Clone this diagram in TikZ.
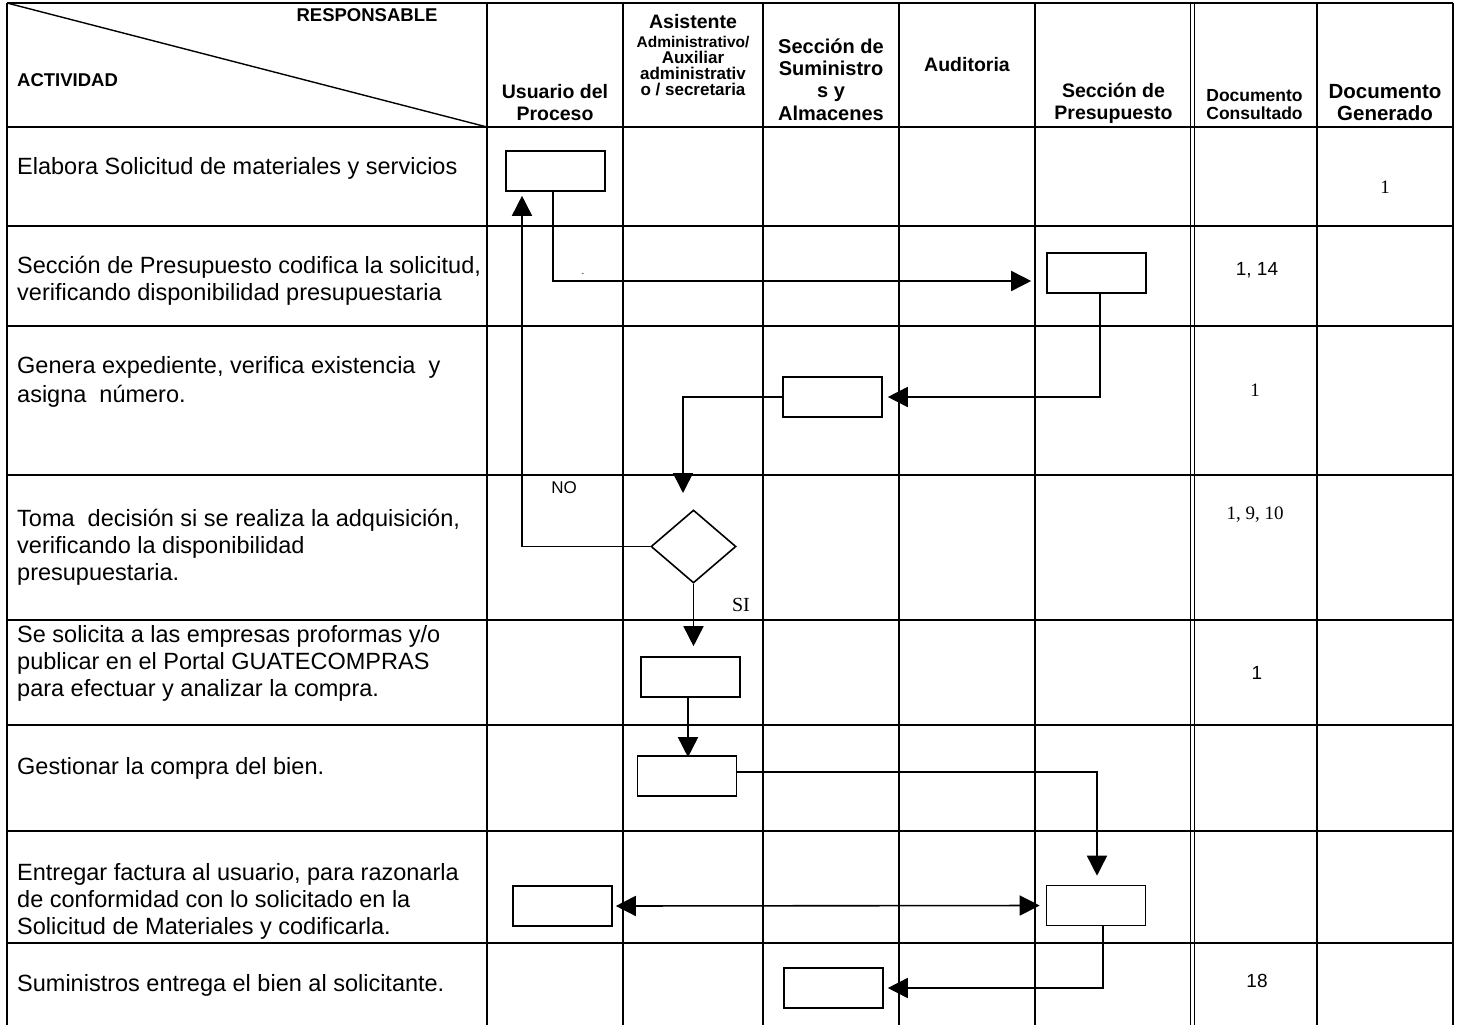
\documentclass[tikz,border=0pt]{standalone}
\usepackage{fontspec}
\setmainfont{Liberation Sans}
\newfontfamily\serifnum{Liberation Serif}
\usetikzlibrary{arrows.meta,shapes.geometric}
\newcommand\myfs[2]{\fontsize{#1}{#2}\selectfont}
\begin{document}
\begin{tikzpicture}[x=1pt,y=-1pt,
  gridline/.style={line width=2.4pt},
  box/.style={draw, line width=1.6pt, rectangle, minimum width=99pt, minimum height=40pt, inner sep=0pt},
  conn/.style={line width=1.6pt},
  arr/.style={conn, -{Triangle[length=20pt,width=20pt]}},
  dbl/.style={conn, {Triangle[length=20pt,width=20pt]}-{Triangle[length=20pt,width=20pt]}},
  act/.style={anchor=west, align=left, inner sep=0pt, font=\myfs{23.5}{27}},
  hdr/.style={align=center, inner sep=0pt, font=\bfseries\myfs{19.5}{22}},
  hdrs/.style={align=center, inner sep=0pt, font=\bfseries\myfs{17}{16}},
  num/.style={inner sep=0pt, font=\myfs{19}{22}},
  snum/.style={inner sep=0pt, font=\serifnum\myfs{19}{22}},
]
\useasboundingbox (0,0) rectangle (1460,1025);
\fill[white] (0,0) rectangle (1460,1025);

% grid
\foreach \y in {3,127,226,326,475,620,725,831,943}
  \draw[gridline] (7,\y) -- (1453,\y);
\foreach \x in {7,487,623,763,899,1035,1317,1453}
  \draw[gridline] (\x,3) -- (\x,1025);
\draw[line width=1.8pt] (1190.5,3) -- (1190.5,1025);
\draw[line width=1.8pt] (1194.5,3) -- (1194.5,1025);
\draw[line width=1.4pt] (7,3) -- (487,127);

% header
\node[hdr, font=\bfseries\myfs{18.5}{22}, anchor=center] (resp) at (367,15) {RESPONSABLE};
\node[hdr, font=\bfseries\myfs{18.5}{22}, anchor=west] (activ) at (17,80) {ACTIVIDAD};
\node[hdr] (h1) at (555,103) {Usuario del\\Proceso};
\node[hdr] (h2a) at (693,22) {Asistente};
\node[inner sep=0pt, font=\bfseries\myfs{15.5}{16}] (h2b) at (693,42) {Administrativo/};
\node[hdrs] (h2c) at (693,57.5) {Auxiliar};
\node[hdrs] (h2d) at (693,73.5) {administrativ};
\node[hdrs] (h2e) at (693,89.5) {o / secretaria};
\node[hdr, font=\bfseries\myfs{20}{22.3}] (h3) at (831,79.5) {Sección de\\Suministro\\s y\\Almacenes};
\node[hdr] (h4) at (967,65) {Auditoria};
\node[hdr] (h5) at (1113.5,103) {Sección de\\Presupuesto};
\node[hdr, font=\bfseries\myfs{17.5}{17.5}] (h6) at (1254.5,104.5) {Documento\\Consultado};
\node[hdr, font=\bfseries\myfs{20.5}{22}] (h7) at (1385,103) {Documento\\Generado};

% activities
\node[act] (a1) at (17,168) {Elabora Solicitud de materiales y servicios};
\node[act] (a2) at (17,280.5) {Sección de Presupuesto codifica la solicitud,\\verificando disponibilidad presupuestaria};
\node[act, font=\myfs{23.5}{28.5}] (a3) at (17,382) {Genera expediente, verifica existencia\ \ y\\asigna\ \ número.};
\node[act] (a4) at (17,547) {Toma\ \ decisión si se realiza la adquisición,\\verificando la disponibilidad\\presupuestaria.};
\node[act] (a5) at (17,663) {Se solicita a las empresas proformas y/o\\publicar en el Portal GUATECOMPRAS\\para efectuar y analizar la compra.};
\node[act] (a6) at (17,768) {Gestionar la compra del bien.};
\node[act] (a7) at (17,901) {Entregar factura al usuario, para razonarla\\de conformidad con lo solicitado en la\\Solicitud de Materiales y codificarla.};
\node[act] (a8) at (17,985) {Suministros entrega el bien al solicitante.};

% documents
\node[snum] (d1) at (1385,187) {1};
\node[num] (d2) at (1257,270) {1, 14};
\node[snum] (d3) at (1255,390) {1};
\node[snum] (d4) at (1255,515) {1, 9, 10};
\node[num] (d5) at (1257,673) {1};
\node[num] (d6) at (1257,981) {18};

% flow shapes
\node[box] (b1) at (555.5,171) {};
\node[box] (b2) at (1096.5,273) {};
\node[box] (b3) at (832.5,397) {};
\node[draw, diamond, line width=1.6pt, minimum width=85pt, minimum height=73pt, inner sep=0pt] (dia) at (693.5,546.5) {};
\node[box] (b4) at (690.5,677) {};
\node[box] (b5) at (687,776) {};
\node[box] (b6) at (1096,905.5) {};
\node[box] (b7) at (562.5,906) {};
\node[box] (b8) at (833.5,988) {};

\coordinate (t3) at (683,493);

% labels
\node[inner sep=0pt, font=\myfs{17}{20}] (lno) at (564,488) {NO};
\node[inner sep=0pt, font=\serifnum\myfs{20}{22}] (lsi) at (741,605) {SI};
\node[inner sep=0pt, font=\myfs{10}{12}] (ldot) at (583,274) {.};

% connectors
\draw[arr, shorten >=15pt] ([xshift=-2.5pt]b1.south) |- ([yshift=-8pt]b2.west);
\draw[arr, shorten >=5pt] ([xshift=3.5pt]b2.south) |- (b3.east);
\draw[arr] (b3.west) -| (t3);
\draw[arr, shorten >=4pt] (dia.west) -| ([xshift=-33.5pt]b1.south);
\draw[arr, shorten >=10pt] (dia.south) -- (dia.south |- b4.north);
\draw[arr, shorten >=-2pt] ([xshift=-2.5pt]b4.south) -- ([xshift=-2.5pt]b4.south |- b5.north);
\draw[arr, shorten >=9pt] ([yshift=4pt]b5.east) -| ([xshift=1pt]b6.north);
\draw[dbl, shorten <=3pt, shorten >=6pt] (b7.east) -- (b6.west);
\draw[arr, shorten >=4pt] ([xshift=7pt]b6.south) |- (b8.east);
\end{tikzpicture}
\end{document}
